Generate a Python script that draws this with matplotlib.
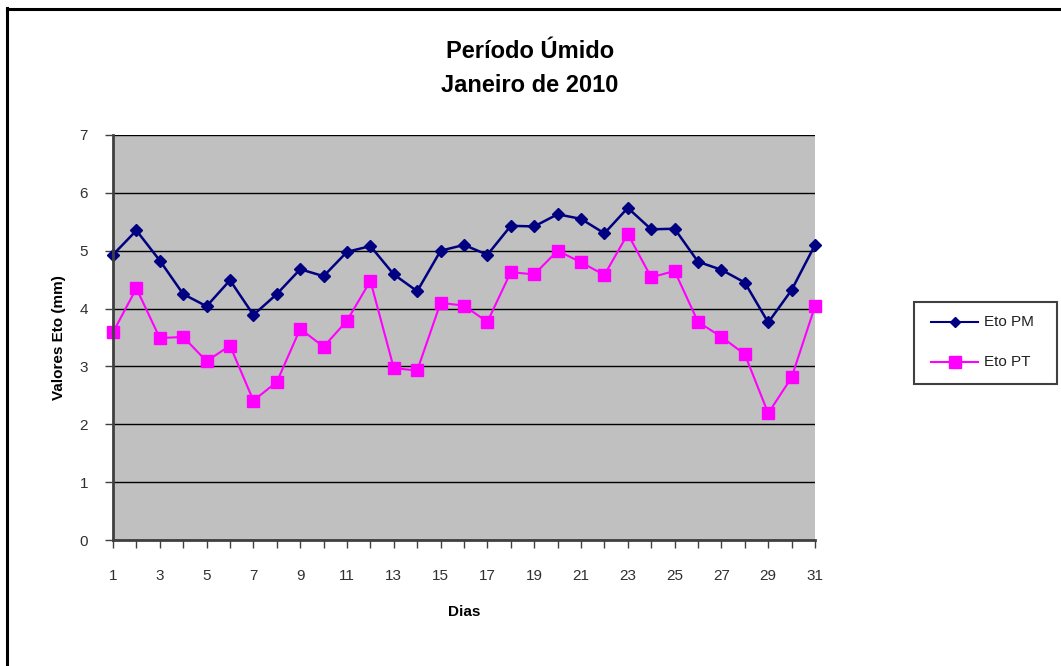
import matplotlib
matplotlib.use("Agg")
import matplotlib.pyplot as plt
from matplotlib.patches import Rectangle
from matplotlib.lines import Line2D

days = list(range(1, 32))
eto_pm = [4.93, 5.35, 4.83, 4.25, 4.04, 4.49, 3.89, 4.25, 4.68, 4.56,
          4.98, 5.08, 4.59, 4.30, 5.00, 5.10, 4.93, 5.43, 5.42, 5.63,
          5.55, 5.30, 5.74, 5.37, 5.38, 4.81, 4.67, 4.45, 3.76, 4.32, 5.10]
eto_pt = [3.59, 4.35, 3.49, 3.51, 3.09, 3.36, 2.41, 2.73, 3.65, 3.34,
          3.79, 4.48, 2.97, 2.93, 4.10, 4.05, 3.77, 4.63, 4.59, 5.00,
          4.80, 4.58, 5.29, 4.54, 4.65, 3.77, 3.51, 3.21, 2.19, 2.81, 4.04]
yticks = [0, 1, 2, 3, 4, 5, 6, 7]
series_labels = ['Eto PM', 'Eto PT']

plt.rcParams['font.family'] = ['Liberation Sans', 'DejaVu Sans']

W, H = 1061, 666
fig = plt.figure(figsize=(W / 100, H / 100), dpi=100)
fig.patch.set_facecolor('white')

# outer border (top and left visible)
fig.add_artist(Line2D([7 / W, 7 / W], [0, 1 - 8 / H], transform=fig.transFigure,
                      color='black', lw=2.2))
fig.add_artist(Line2D([7 / W, 1], [1 - 9 / H, 1 - 9 / H], transform=fig.transFigure,
                      color='black', lw=2.2))

ax = fig.add_axes([113 / W, 1 - 540 / H, 702 / W, 405 / H])
ax.set_facecolor('#C0C0C0')

ax.plot(days, eto_pm, color='#000080', lw=1.8, marker='D', markersize=6,
        markerfacecolor='#000080', markeredgecolor='#000080', label=series_labels[0],
        zorder=3, clip_on=False)
ax.plot(days, eto_pt, color='#FF00FF', lw=1.5, marker='s', markersize=8,
        markerfacecolor='#FF00FF', markeredgecolor='#FF00FF', label=series_labels[1],
        zorder=3, clip_on=False)

ax.set_xlim(1, 31)
ax.set_ylim(0, 7)
ax.set_yticks(yticks)
ax.set_xticks(days)
ax.set_xticklabels([str(d) if d % 2 == 1 else '' for d in days])
ax.yaxis.grid(True, color='black', lw=1)
ax.set_axisbelow(True)

for s in ['top', 'right']:
    ax.spines[s].set_visible(False)
for s in ['left', 'bottom']:
    ax.spines[s].set_color('#404040')
    ax.spines[s].set_linewidth(2)
    ax.spines[s].set_zorder(4)

ax.tick_params(axis='both', direction='out', colors='#404040', labelcolor='#303030',
               labelsize=11, length=6, width=1)
ax.tick_params(axis='x', pad=15)
ax.tick_params(axis='y', pad=12)

ax.set_xlabel('Dias', fontsize=11, fontweight='bold', labelpad=16)
ax.set_ylabel('Valores Eto (mm)', fontsize=11, fontweight='bold', labelpad=10)

fig.text(530 / W, 1 - 52 / H, 'Período Úmido', ha='center', va='center',
         fontsize=17, fontweight='bold')
fig.text(530 / W, 1 - 86 / H, 'Janeiro de 2010', ha='center', va='center',
         fontsize=17, fontweight='bold')

# legend
fig.add_artist(Rectangle((914 / W, 1 - 384 / H), 143 / W, 82 / H,
                         transform=fig.transFigure, facecolor='white',
                         edgecolor='#404040', lw=1.5))
leg_items = [(series_labels[0], '#000080', 'D', 5, 322),
             (series_labels[1], '#FF00FF', 's', 8, 362)]
for lab, col, mk, ms, yy in leg_items:
    yf = 1 - yy / H
    fig.add_artist(Line2D([931 / W, 978 / W], [yf, yf], transform=fig.transFigure,
                          color=col, lw=1.5))
    fig.add_artist(Line2D([955 / W], [yf], transform=fig.transFigure,
                          color=col, marker=mk, markersize=ms, lw=0))
    fig.text(984 / W, yf, lab, ha='left', va='center', fontsize=11, color='#202020')

fig.savefig('out.png', dpi=100)
